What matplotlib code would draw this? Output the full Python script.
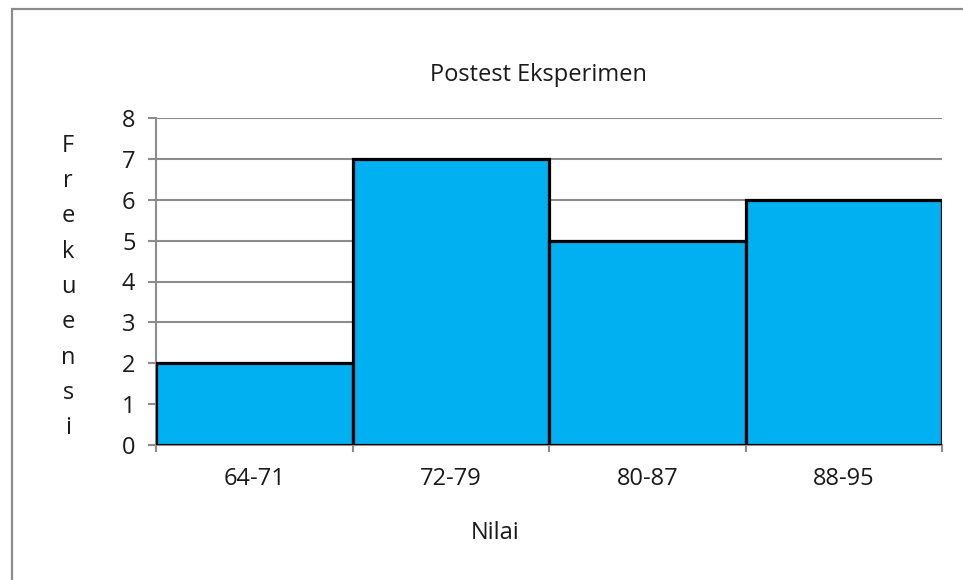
import matplotlib
matplotlib.use("Agg")
import matplotlib.pyplot as plt
from matplotlib.patches import Rectangle
import numpy as np

categories = ["64-71", "72-79", "80-87", "88-95"]
frequencies = [2, 7, 5, 6]
y_ticks = [0, 1, 2, 3, 4, 5, 6, 7, 8]

title = "Postest Eksperimen"
x_label = "Nilai"
y_label = "Frekuensi"

plt.rcParams['font.family'] = ['Open Sans', 'DejaVu Sans']

W, H = 963, 580
PX = 72 / 100  # points per pixel at 100 dpi
fig = plt.figure(figsize=(W / 100, H / 100), dpi=100)
fig.patch.set_facecolor("white")

# outer chart border
fig.patches.append(Rectangle((12 / W, -0.5), 2.0, 1.5 - 9 / H,
                             transform=fig.transFigure, fill=False,
                             edgecolor="#8c8c8c", linewidth=1.6, zorder=0))

ax = fig.add_axes([156 / W, (H - 445) / H, (942 - 156) / W, (445 - 118) / H])
grid_color = "#8c8c8c"
text_color = "#1a1a1a"
fs = 17

x = np.arange(len(categories))
ax.bar(x, frequencies, width=1.0, align="edge", color="#00B0F0",
       edgecolor="black", linewidth=2.3, zorder=3)

ax.set_xlim(0, len(categories))
ax.set_ylim(y_ticks[0], y_ticks[-1])
ax.set_yticks(y_ticks)
ax.yaxis.grid(True, color=grid_color, linewidth=1.5, zorder=0)
ax.set_axisbelow(True)

# boundaries as major ticks, category names centered as minor ticks
ax.set_xticks(np.arange(len(categories) + 1))
ax.set_xticklabels([])
ax.set_xticks(x + 0.5, minor=True)
ax.set_xticklabels(categories, minor=True)
ax.tick_params(axis="x", which="major", length=7 * PX, width=1.5, color=grid_color, direction="out")
ax.tick_params(axis="x", which="minor", length=0, pad=16, labelsize=fs, labelcolor=text_color)
ax.tick_params(axis="y", length=8 * PX, width=1.5, color=grid_color, direction="out",
               pad=9, labelsize=fs, labelcolor=text_color)

for side in ("top", "right"):
    ax.spines[side].set_visible(False)
for side in ("left", "bottom"):
    ax.spines[side].set_color(grid_color)
    ax.spines[side].set_linewidth(1.5)

fig.text(538 / W, 1 - 75 / H, title, ha="center", va="center", fontsize=fs, color=text_color)
fig.text(495 / W, 1 - 533 / H, x_label, ha="center", va="center", fontsize=fs, color=text_color)
fig.text(68 / W, 1 - 287 / H, "\n".join(y_label), ha="center", va="center",
         fontsize=fs, color=text_color, linespacing=1.63)

fig.savefig("out.png", dpi=100, facecolor="white")
